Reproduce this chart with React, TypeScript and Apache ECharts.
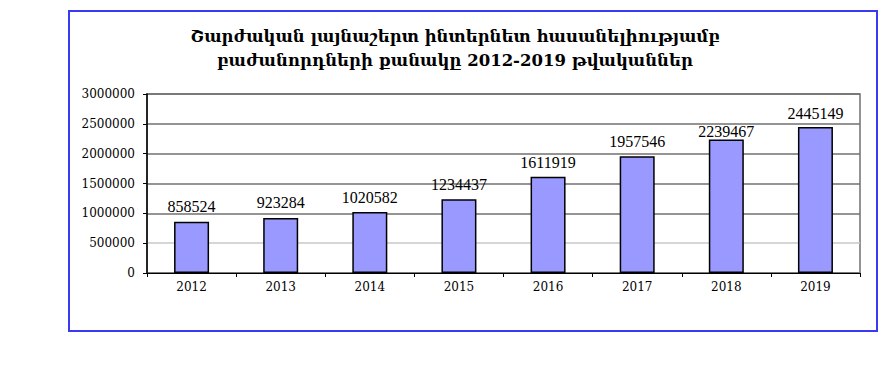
import React, { useEffect, useRef } from "react";
import * as echarts from "echarts";

const titleLines = [
  "Շարժական լայնաշերտ ինտերնետ հասանելիությամբ",
  "բաժանորդների քանակը 2012-2019 թվականներ",
];
const years = ["2012", "2013", "2014", "2015", "2016", "2017", "2018", "2019"];
const subscribers = [858524, 923284, 1020582, 1234437, 1611919, 1957546, 2239467, 2445149];
const labelGaps = [7, 7, 7, 7, 6, 7, 0, 6];

export default function App() {
  const ref = useRef<HTMLDivElement>(null);
  useEffect(() => {
    const chart = echarts.init(ref.current!, null, { renderer: "svg" });
    chart.setOption({
      animation: false,
      backgroundColor: "#ffffff",
      graphic: [
        {
          type: "rect",
          shape: { x: 69, y: 11, width: 808, height: 320 },
          style: { fill: "none", stroke: "#3a3af0", lineWidth: 2 },
          z: 10,
        },
        {
          type: "text",
          x: 455,
          y: 24,
          style: {
            text: titleLines.join("\n"),
            fontFamily: "DejaVu Serif",
            fontWeight: "bold",
            fontSize: 16.5,
            lineHeight: 24,
            fill: "#000",
            align: "center",
            verticalAlign: "top",
          },
        },
      ],
      grid: {
        left: 147,
        top: 94,
        right: 27,
        bottom: 108,
        show: true,
        borderColor: "#707070",
        borderWidth: 1.5,
      },
      xAxis: {
        type: "category",
        data: years,
        axisLine: { lineStyle: { color: "#000", width: 1 } },
        axisTick: { show: true, length: 4, lineStyle: { color: "#000" } },
        axisLabel: {
          fontFamily: "DejaVu Serif",
          fontSize: 12,
          color: "#000",
          margin: 8,
        },
      },
      yAxis: {
        type: "value",
        min: 0,
        max: 3000000,
        interval: 500000,
        axisLine: { show: true, lineStyle: { color: "#000", width: 1.5 } },
        axisTick: { show: true, length: 4, lineStyle: { color: "#000" } },
        axisLabel: {
          fontFamily: "DejaVu Serif",
          fontSize: 12,
          color: "#000",
          margin: 12,
          formatter: (v: number) => String(v),
        },
        splitLine: {
          show: true,
          lineStyle: {
            color: ["#707070", "#c8c8c8", "#707070", "#707070", "#707070", "#707070", "#707070"],
            width: 1.5,
          },
        },
      },
      series: [
        {
          type: "bar",
          barWidth: 35,
          data: subscribers.map((v, i) => ({
            value: v,
            label: { distance: labelGaps[i] },
          })),
          itemStyle: { color: "#9999ff", borderColor: "#000", borderWidth: 1.5 },
          label: {
            show: true,
            position: "top",
            fontFamily: "Liberation Serif",
            fontSize: 16,
            color: "#000",
          },
        },
      ],
    });
    return () => chart.dispose();
  }, []);
  return (
    <div
      ref={ref}
      style={{ position: "fixed", left: 0, top: 0, width: 887, height: 381 }}
    />
  );
}
